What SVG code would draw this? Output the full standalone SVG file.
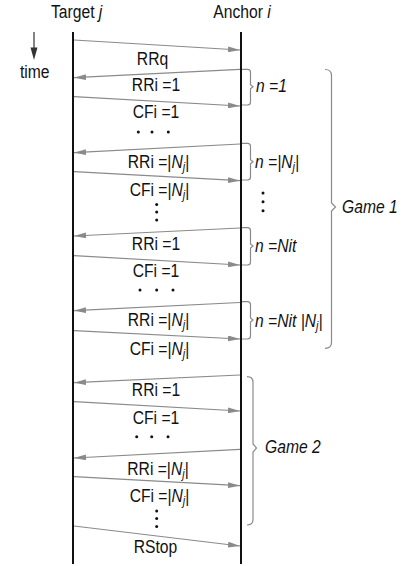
<svg xmlns="http://www.w3.org/2000/svg" width="403" height="566" viewBox="0 0 403 566">
<style>
.t{font-family:"Liberation Sans",Arial,sans-serif;font-size:18px;fill:#111;text-anchor:middle}
.s{text-anchor:start}
.i{font-style:italic}
.sub{font-size:12.5px}
.msg{stroke:#8a8a8a;stroke-width:1.2;fill:none;marker-end:url(#ah)}
.life{stroke:#111;stroke-width:2}
.br{stroke:#8a8a8a;stroke-width:1.2;fill:none}
.dot{fill:#111}
</style>
<defs>
<marker id="ah" markerUnits="userSpaceOnUse" markerWidth="12" markerHeight="6" refX="12" refY="2.9" orient="auto">
<path d="M0,0 L12,2.9 L0,5.8 z" fill="#8a8a8a"/>
</marker>
</defs>
<rect width="403" height="566" fill="#fff"/>

<g id="target">
<line class="life" x1="73" y1="32" x2="73" y2="564"/>
<text class="t s" transform="translate(51 18.3) scale(.87 1)">Target <tspan class="i">j</tspan></text>
</g>
<g id="anchor">
<line class="life" x1="241" y1="32" x2="241" y2="564"/>
<text class="t s" transform="translate(213.3 18.3) scale(.87 1)">Anchor <tspan class="i">i</tspan></text>
</g>

<g id="time">
<line x1="34" y1="32" x2="34" y2="50" stroke="#333" stroke-width="1.2"/>
<path d="M30.5,47.5 L37.5,47.5 L34,60 z" fill="#333"/>
<text class="t s" transform="translate(20 78) scale(.87 1)">time</text>
</g>

<g id="connectors">
<line class="msg" x1="74" y1="40" x2="240" y2="50"/>
<line class="msg" x1="240" y1="69.3" x2="74" y2="77.7"/>
<line class="msg" x1="74" y1="96.7" x2="240" y2="106"/>
<line class="msg" x1="240" y1="144" x2="74" y2="152.7"/>
<line class="msg" x1="74" y1="171.7" x2="240" y2="180.7"/>
<line class="msg" x1="240" y1="228" x2="74" y2="236"/>
<line class="msg" x1="74" y1="255.7" x2="240" y2="265"/>
<line class="msg" x1="240" y1="302.5" x2="74" y2="310.7"/>
<line class="msg" x1="74" y1="330.7" x2="240" y2="339"/>
<line class="msg" x1="240" y1="375" x2="74" y2="382.7"/>
<line class="msg" x1="74" y1="401.7" x2="240" y2="411"/>
<line class="msg" x1="240" y1="449.3" x2="74" y2="458"/>
<line class="msg" x1="74" y1="476.7" x2="240" y2="485.7"/>
<line class="msg" x1="74" y1="526" x2="240" y2="546"/>
</g>

<g id="labels">
<text class="t" transform="translate(152.5 65) scale(.87 1)">RRq</text>
<text class="t" transform="translate(156 91) scale(.87 1)">RRi =1</text>
<text class="t" transform="translate(156 118) scale(.87 1)">CFi =1</text>
<text class="t" transform="translate(158.5 167.5) scale(.87 1)">RRi =|<tspan class="i">N</tspan><tspan class="i sub" dy="3">j</tspan><tspan dy="-3">|</tspan></text>
<text class="t" transform="translate(159.5 195.5) scale(.87 1)">CFi =|<tspan class="i">N</tspan><tspan class="i sub" dy="3">j</tspan><tspan dy="-3">|</tspan></text>
<text class="t" transform="translate(156 249.5) scale(.87 1)">RRi =1</text>
<text class="t" transform="translate(156 276.5) scale(.87 1)">CFi =1</text>
<text class="t" transform="translate(158.5 326) scale(.87 1)">RRi =|<tspan class="i">N</tspan><tspan class="i sub" dy="3">j</tspan><tspan dy="-3">|</tspan></text>
<text class="t" transform="translate(159.5 354.5) scale(.87 1)">CFi =|<tspan class="i">N</tspan><tspan class="i sub" dy="3">j</tspan><tspan dy="-3">|</tspan></text>
<text class="t" transform="translate(156 396) scale(.87 1)">RRi =1</text>
<text class="t" transform="translate(156 424) scale(.87 1)">CFi =1</text>
<text class="t" transform="translate(158 474.5) scale(.87 1)">RRi =|<tspan class="i">N</tspan><tspan class="i sub" dy="3">j</tspan><tspan dy="-3">|</tspan></text>
<text class="t" transform="translate(159.5 501.5) scale(.87 1)">CFi =|<tspan class="i">N</tspan><tspan class="i sub" dy="3">j</tspan><tspan dy="-3">|</tspan></text>
<text class="t" transform="translate(155.5 553) scale(.87 1)">RStop</text>
</g>

<g id="ellipses">
<circle class="dot" cx="138.3" cy="132" r="1.5"/><circle class="dot" cx="152" cy="132" r="1.5"/><circle class="dot" cx="168.3" cy="132" r="1.5"/>
<circle class="dot" cx="156.7" cy="204.5" r="1.5"/><circle class="dot" cx="156.7" cy="212" r="1.5"/><circle class="dot" cx="156.7" cy="220" r="1.5"/>
<circle class="dot" cx="140" cy="290" r="1.5"/><circle class="dot" cx="156.7" cy="290" r="1.5"/><circle class="dot" cx="173" cy="290" r="1.5"/>
<circle class="dot" cx="136.7" cy="436.7" r="1.5"/><circle class="dot" cx="151.7" cy="436.7" r="1.5"/><circle class="dot" cx="168" cy="436.7" r="1.5"/>
<circle class="dot" cx="156.7" cy="511" r="1.5"/><circle class="dot" cx="156.7" cy="518.5" r="1.5"/><circle class="dot" cx="156.7" cy="526.5" r="1.5"/>
<circle class="dot" cx="263" cy="193" r="1.5"/><circle class="dot" cx="263" cy="201.7" r="1.5"/><circle class="dot" cx="263" cy="210.7" r="1.5"/>
</g>

<g id="brace-n1">
<path class="br" d="M242,69.3 H247.5 Q250.5,69.3 250.5,72.3 V84.7 L253,86.7 L250.5,88.7 V102 Q250.5,105 247.5,105 H242"/>
<text class="t s i" transform="translate(256 91.7) scale(.87 1)">n =1</text>
</g>
<g id="brace-nNj">
<path class="br" d="M242,143.3 H247.5 Q250.5,143.3 250.5,146.3 V159.7 L253,161.7 L250.5,163.7 V177 Q250.5,180 247.5,180 H242"/>
<text class="t s i" transform="translate(255 167.5) scale(.87 1)">n =|N<tspan class="sub" dy="3">j</tspan><tspan dy="-3">|</tspan></text>
</g>
<g id="brace-nNit">
<path class="br" d="M242,227.7 H247.5 Q250.5,227.7 250.5,230.7 V244 L253,246 L250.5,248 V262 Q250.5,265 247.5,265 H242"/>
<text class="t s i" transform="translate(255 252) scale(.87 1)">n =Nit</text>
</g>
<g id="brace-nNitNj">
<path class="br" d="M242,301.7 H247.5 Q250.5,301.7 250.5,304.7 V318 L253,320 L250.5,322 V336 Q250.5,339 247.5,339 H242"/>
<text class="t s i" transform="translate(255 326.5) scale(.87 1)">n =Nit |N<tspan class="sub" dy="3">j</tspan><tspan dy="-3">|</tspan></text>
</g>

<g id="game1">
<path class="br" d="M325,69.5 Q331.5,69.5 331.5,75.5 V203 L335.5,207 L331.5,211 V342.5 Q331.5,348.3 325,348.3"/>
<text class="t s i" transform="translate(342 213.3) scale(.87 1)">Game 1</text>
</g>
<g id="game2">
<path class="br" d="M247,376.7 Q253,376.7 253,382.5 V444 L256.5,448 L253,452 V519.5 Q253,525 247,525"/>
<text class="t s i" transform="translate(265 453) scale(.87 1)">Game 2</text>
</g>
</svg>
